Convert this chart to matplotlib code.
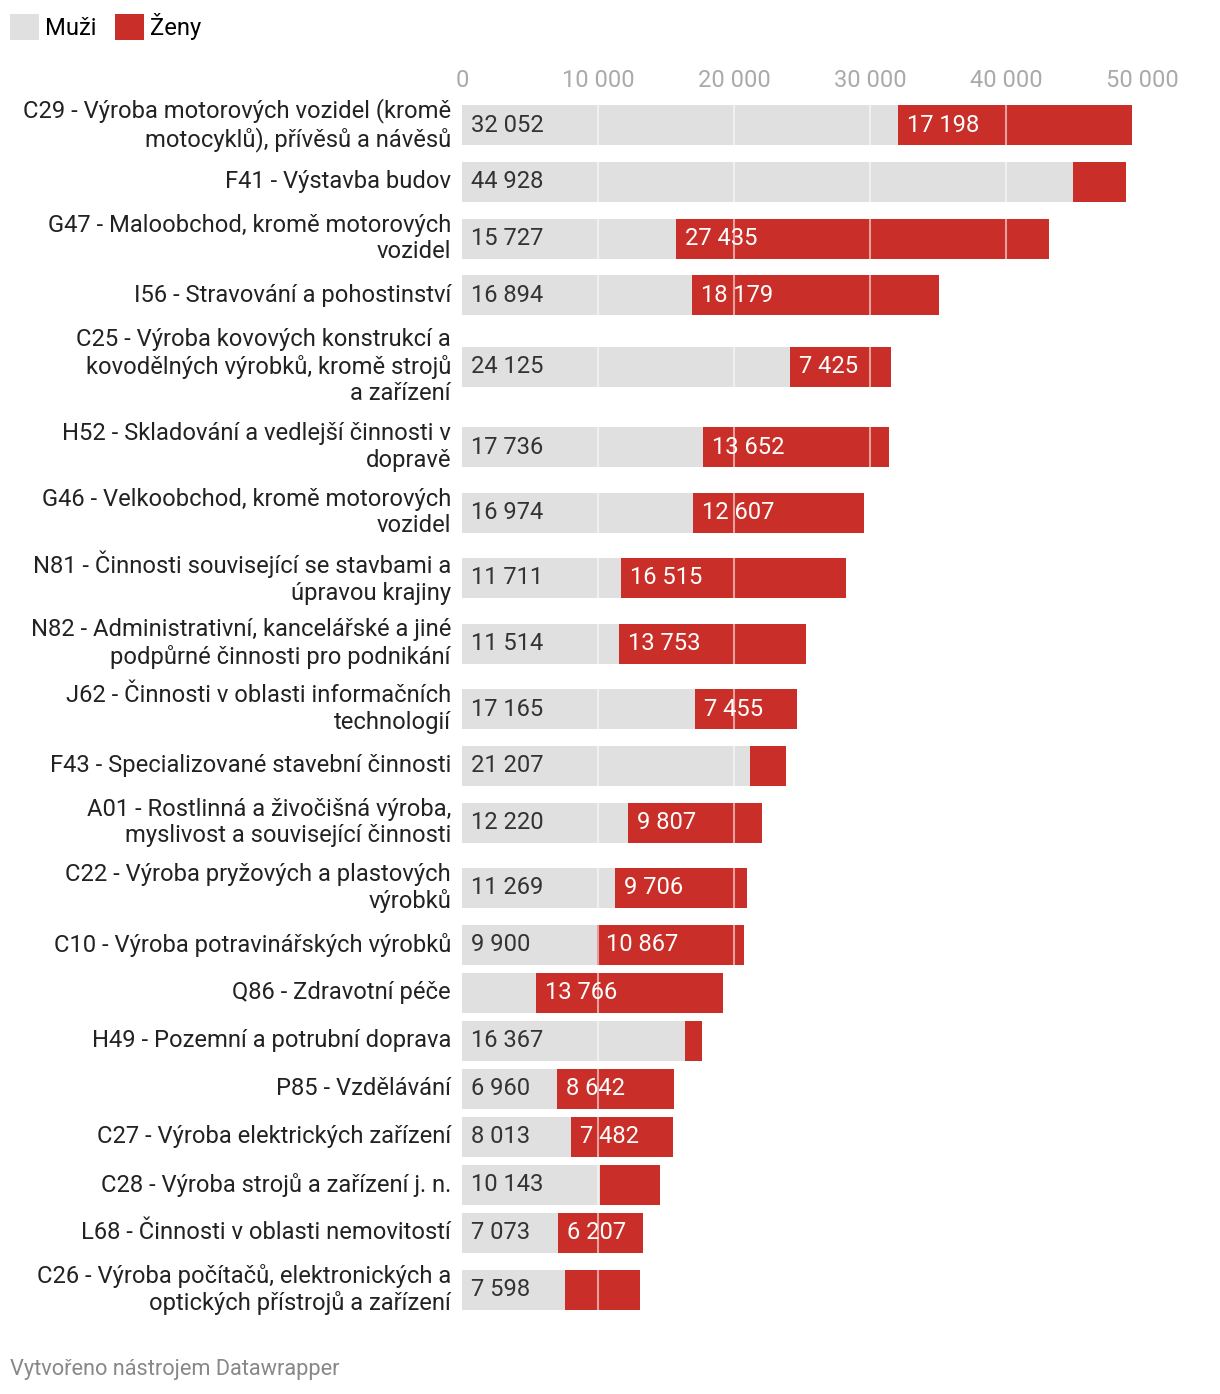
import matplotlib.pyplot as plt
from matplotlib.transforms import ScaledTranslation
import numpy as np

# data
labels = [
    "C29 - Výroba motorových vozidel (kromě\nmotocyklů), přívěsů a návěsů",
    "F41 - Výstavba budov",
    "G47 - Maloobchod, kromě motorových\nvozidel",
    "I56 - Stravování a pohostinství",
    "C25 - Výroba kovových konstrukcí a\nkovodělných výrobků, kromě strojů\na zařízení",
    "H52 - Skladování a vedlejší činnosti v\ndopravě",
    "G46 - Velkoobchod, kromě motorových\nvozidel",
    "N81 - Činnosti související se stavbami a\núpravou krajiny",
    "N82 - Administrativní, kancelářské a jiné\npodpůrné činnosti pro podnikání",
    "J62 - Činnosti v oblasti informačních\ntechnologií",
    "F43 - Specializované stavební činnosti",
    "A01 - Rostlinná a živočišná výroba,\nmyslivost a související činnosti",
    "C22 - Výroba pryžových a plastových\nvýrobků",
    "C10 - Výroba potravinářských výrobků",
    "Q86 - Zdravotní péče",
    "H49 - Pozemní a potrubní doprava",
    "P85 - Vzdělávání",
    "C27 - Výroba elektrických zařízení",
    "C28 - Výroba strojů a zařízení j. n.",
    "L68 - Činnosti v oblasti nemovitostí",
    "C26 - Výroba počítačů, elektronických a\noptických přístrojů a zařízení",
]
muzi = [32052, 44928, 15727, 16894, 24125, 17736, 16974, 11711, 11514, 17165,
        21207, 12220, 11269, 9900, 5440, 16367, 6960, 8013, 10143, 7073, 7598]
zeny = [17198, 3900, 27435, 18179, 7425, 13652, 12607, 16515, 13753, 7455,
        2620, 9807, 9706, 10867, 13766, 1280, 8642, 7482, 4420, 6207, 5490]
ticks = [0, 10000, 20000, 30000, 40000, 50000]

GRAY = "#dfe0df"
RED = "#c92f28"
FONT = "Roboto"
W, H = 1220, 1394

def fmt(v):
    return "{:,}".format(v).replace(",", " ")

# row centers (in pixels) from the number of label lines
row_h = {1: 48, 2: 65.5, 3: 95}
heights = [row_h[l.count("\n") + 1] for l in labels]
centers = []
y = 125
for i, h in enumerate(heights):
    if i > 0:
        y += (heights[i - 1] + h) / 2
    centers.append(y)
centers = np.array(centers)

fig = plt.figure(figsize=(W / 100, H / 100), dpi=100)
top, bottom = 100, 1325
ax = fig.add_axes([462 / W, 1 - bottom / H, 680 / W, (bottom - top) / H])
ax.set_xlim(0, 50000)
ax.set_ylim(bottom, top)
for s in ax.spines.values():
    s.set_visible(False)
ax.set_yticks([])

b1 = ax.barh(centers, muzi, height=40, color=GRAY, label="Muži")
b2 = ax.barh(centers, zeny, left=muzi, height=40, color=RED, label="Ženy")

# grid lines over the bars
for t in ticks[1:-1]:
    ax.axvline(t, color="white", alpha=0.55, lw=1.5, zorder=3)

ax.xaxis.tick_top()
ax.set_xticks(ticks)
ax.set_xticklabels([fmt(t) for t in ticks], fontsize=17, color="#aaaaaa", family=FONT)
ax.tick_params(axis="x", length=0, pad=6)

off = ScaledTranslation(-11 / 100, 0, fig.dpi_scale_trans)
val_off = ScaledTranslation(9 / 100, 0, fig.dpi_scale_trans)
for yc, lab, m, z in zip(centers, labels, muzi, zeny):
    ax.text(0, yc, lab, ha="right", va="center", fontsize=17.15, family=FONT,
            color="#222222", linespacing=1.2, transform=ax.transData + off)
    if m > 6000:
        ax.text(0, yc, fmt(m), ha="left", va="center", fontsize=17.15, family=FONT,
                color="#333333", transform=ax.transData + val_off, zorder=4)
    if z > 6000:
        ax.text(m, yc, fmt(z), ha="left", va="center", fontsize=17.15, family=FONT,
                color="white", transform=ax.transData + val_off, zorder=4)

fig.legend(handles=[b1, b2], loc="upper left", bbox_to_anchor=(10 / W, 1 - 13 / H),
           ncol=2, frameon=False, prop={"family": FONT, "size": 17.15},
           handlelength=1.2, handleheight=1.25, handletextpad=0.25,
           columnspacing=0.8, borderpad=0, borderaxespad=0)

fig.text(10 / W, 1 - 1370 / H, "Vytvořeno nástrojem Datawrapper", ha="left",
         va="center", fontsize=15.7, family=FONT, color="#888888")

fig.savefig("out.png", dpi=100, facecolor="white")
